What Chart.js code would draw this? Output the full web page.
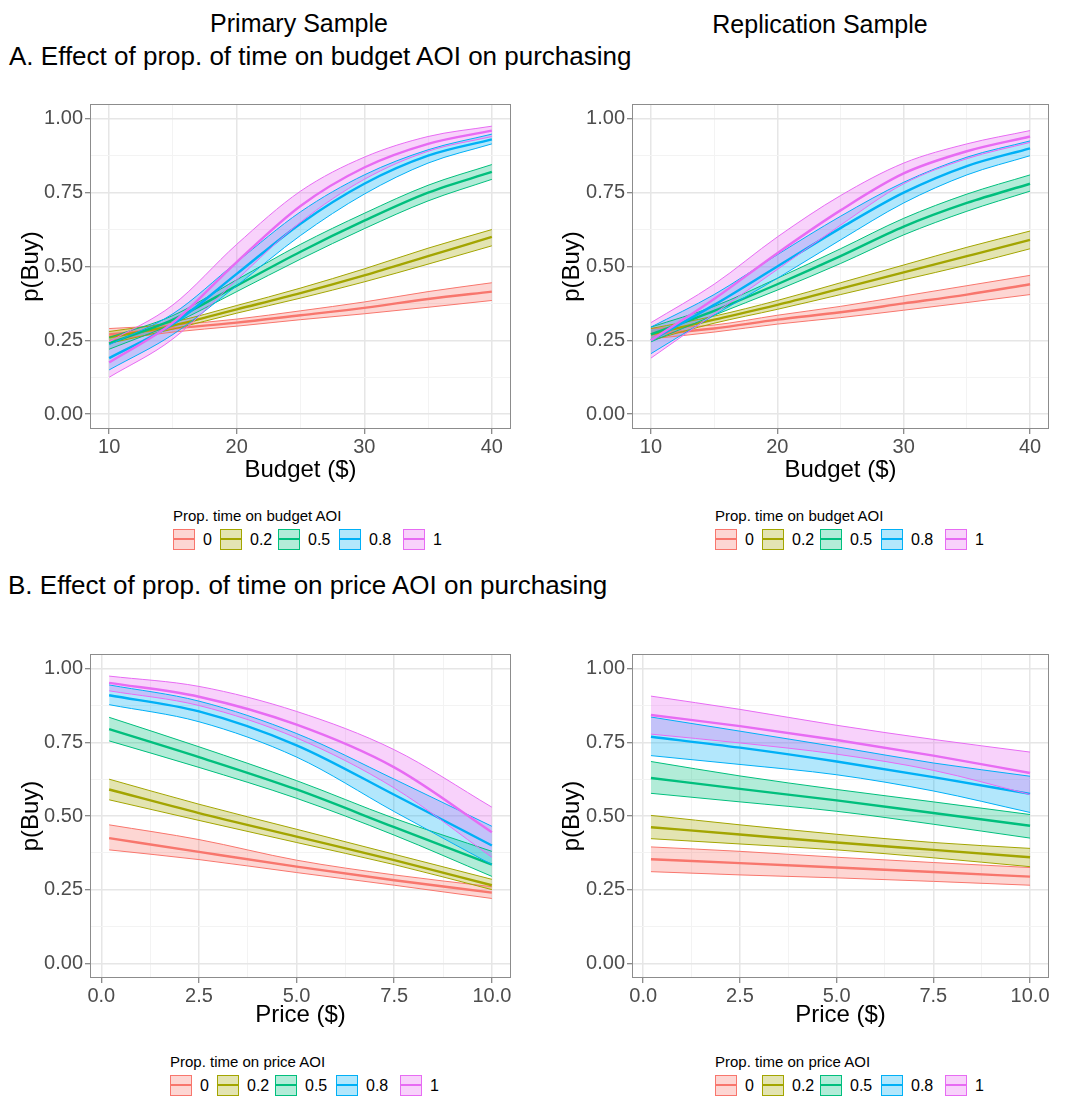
<!DOCTYPE html>
<html>
<head>
<meta charset="utf-8">
<script src="https://cdn.jsdelivr.net/npm/chart.js@4.4.0/dist/chart.umd.min.js"></script>
<style>
body { margin: 0; background: #fff; font-family: "Liberation Sans", Arial, Helvetica, sans-serif; }
#page { position: relative; width: 1065px; height: 1099px; overflow: hidden; background: #fff; }
canvas { position: absolute; }
.big { position: absolute; font-size: 25px; line-height: 25px; color: #000; white-space: nowrap; }
.sec { font-size: 26px; line-height: 26px; }
.ltitle { position: absolute; font-size: 15px; line-height: 15px; color: #000; white-space: nowrap; }
.lab { position: absolute; font-size: 16px; line-height: 16px; color: #000; white-space: nowrap; }
.key { position: absolute; width: 20px; height: 19px; border: 1px solid; }
.key div { position: absolute; left: 0; right: 0; top: 8px; height: 2px; }
</style>
</head>
<body>
<div id="page">
  <div class="big" style="left:299px; top:11px; transform:translateX(-50%);">Primary Sample</div>
  <div class="big" style="left:820px; top:12px; transform:translateX(-50%);">Replication Sample</div>
  <div class="big sec" style="left:9px; top:43px;">A. Effect of prop. of time on budget AOI on purchasing</div>
  <div class="big sec" style="left:8px; top:572px;">B. Effect of prop. of time on price AOI on purchasing</div>

  <canvas id="chartA1" width="536" height="410" style="left:0px; top:90px;"></canvas>
  <canvas id="chartA2" width="529" height="410" style="left:541px; top:90px;"></canvas>
  <canvas id="chartB1" width="536" height="400" style="left:0px; top:640px;"></canvas>
  <canvas id="chartB2" width="529" height="400" style="left:541px; top:640px;"></canvas>
</div>

<script>
var groups = ['0', '0.2', '0.5', '0.8', '1'];
var colors = ['248,118,109', '163,165,0', '0,191,125', '0,176,246', '231,107,243'];

var budgetX = [10, 15, 20, 25, 30, 35, 40];
var priceX = [0.2, 2.5, 5, 7.5, 10];

var yMajor = [0, 0.25, 0.5, 0.75, 1];
var yMinor = [0.125, 0.375, 0.625, 0.875];
var budgetMajor = [10, 20, 30, 40];
var budgetMinor = [15, 25, 35];
var priceMajor = [0, 2.5, 5, 7.5, 10];
var priceMinor = [1.25, 3.75, 6.25, 8.75];

// A. primary sample, budget
var budgetPrimaryMean = [
    [0.27, 0.29, 0.31, 0.335, 0.36, 0.39, 0.415],
    [0.26, 0.30, 0.355, 0.41, 0.47, 0.535, 0.60],
    [0.24, 0.32, 0.435, 0.55, 0.655, 0.75, 0.82],
    [0.19, 0.305, 0.475, 0.645, 0.78, 0.875, 0.93],
    [0.175, 0.31, 0.515, 0.705, 0.835, 0.915, 0.96]
];
var budgetPrimaryLow = [
    [0.25, 0.278, 0.298, 0.32, 0.34, 0.362, 0.385],
    [0.24, 0.288, 0.342, 0.393, 0.448, 0.508, 0.57],
    [0.22, 0.306, 0.415, 0.525, 0.628, 0.722, 0.795],
    [0.15, 0.27, 0.435, 0.605, 0.745, 0.85, 0.915],
    [0.125, 0.255, 0.455, 0.65, 0.795, 0.89, 0.94]
];
var budgetPrimaryHigh = [
    [0.29, 0.302, 0.322, 0.35, 0.38, 0.415, 0.445],
    [0.28, 0.312, 0.368, 0.427, 0.492, 0.562, 0.625],
    [0.26, 0.334, 0.455, 0.575, 0.68, 0.775, 0.845],
    [0.235, 0.34, 0.515, 0.685, 0.81, 0.895, 0.948],
    [0.245, 0.37, 0.575, 0.755, 0.87, 0.94, 0.975]
];

// A. replication sample, budget
var budgetReplMean = [
    [0.27, 0.29, 0.32, 0.345, 0.375, 0.405, 0.44],
    [0.27, 0.32, 0.37, 0.425, 0.48, 0.535, 0.59],
    [0.27, 0.35, 0.44, 0.535, 0.635, 0.715, 0.78],
    [0.25, 0.37, 0.50, 0.63, 0.75, 0.84, 0.90],
    [0.25, 0.39, 0.545, 0.69, 0.815, 0.89, 0.94]
];
var budgetReplLow = [
    [0.255, 0.278, 0.305, 0.327, 0.352, 0.378, 0.405],
    [0.25, 0.308, 0.355, 0.405, 0.455, 0.505, 0.56],
    [0.245, 0.335, 0.42, 0.51, 0.607, 0.687, 0.755],
    [0.205, 0.335, 0.46, 0.59, 0.715, 0.81, 0.875],
    [0.19, 0.34, 0.49, 0.64, 0.78, 0.865, 0.92]
];
var budgetReplHigh = [
    [0.29, 0.302, 0.335, 0.365, 0.40, 0.435, 0.47],
    [0.29, 0.332, 0.385, 0.445, 0.505, 0.565, 0.62],
    [0.295, 0.365, 0.46, 0.56, 0.663, 0.745, 0.81],
    [0.295, 0.405, 0.54, 0.67, 0.785, 0.87, 0.925],
    [0.31, 0.44, 0.60, 0.74, 0.85, 0.915, 0.96]
];

// B. primary sample, price
var pricePrimaryMean = [
    [0.425, 0.378, 0.328, 0.282, 0.24],
    [0.59, 0.51, 0.43, 0.35, 0.265],
    [0.795, 0.70, 0.59, 0.462, 0.335],
    [0.91, 0.855, 0.74, 0.572, 0.40],
    [0.952, 0.905, 0.81, 0.665, 0.445]
];
var pricePrimaryLow = [
    [0.385, 0.352, 0.308, 0.265, 0.22],
    [0.555, 0.485, 0.41, 0.335, 0.25],
    [0.755, 0.665, 0.56, 0.435, 0.295],
    [0.878, 0.82, 0.70, 0.515, 0.335],
    [0.925, 0.875, 0.765, 0.595, 0.36]
];
var pricePrimaryHigh = [
    [0.47, 0.42, 0.35, 0.30, 0.26],
    [0.625, 0.54, 0.455, 0.37, 0.285],
    [0.835, 0.735, 0.62, 0.492, 0.38],
    [0.945, 0.89, 0.78, 0.625, 0.465],
    [0.975, 0.94, 0.855, 0.725, 0.53]
];

// B. replication sample, price
var priceReplMean = [
    [0.353, 0.34, 0.325, 0.31, 0.294],
    [0.462, 0.437, 0.41, 0.385, 0.36],
    [0.629, 0.592, 0.553, 0.51, 0.467],
    [0.769, 0.732, 0.685, 0.632, 0.575],
    [0.843, 0.805, 0.758, 0.705, 0.646]
];
var priceReplLow = [
    [0.311, 0.30, 0.29, 0.278, 0.265],
    [0.423, 0.405, 0.385, 0.358, 0.328],
    [0.577, 0.548, 0.516, 0.472, 0.425],
    [0.705, 0.675, 0.64, 0.585, 0.512],
    [0.778, 0.748, 0.71, 0.655, 0.573]
];
var priceReplHigh = [
    [0.395, 0.38, 0.36, 0.342, 0.325],
    [0.502, 0.47, 0.438, 0.41, 0.39],
    [0.685, 0.636, 0.59, 0.548, 0.505],
    [0.836, 0.788, 0.735, 0.68, 0.635],
    [0.907, 0.862, 0.808, 0.76, 0.717]
];

Chart.defaults.font.family = '"Liberation Sans", Arial, Helvetica, sans-serif';

var panelBorder = {
    id: 'panelBorder',
    afterDraw: function(chart) {
        var a = chart.chartArea;
        var c = chart.ctx;
        c.save();
        c.strokeStyle = '#8c8c8c';
        c.lineWidth = 1;
        c.strokeRect(Math.round(a.left) + 0.5, Math.round(a.top) + 0.5, Math.round(a.right - a.left) - 1, Math.round(a.bottom - a.top) - 1);
        c.restore();
    }
};

function points(xs, ys) {
    return xs.map(function(x, i) { return {x: x, y: ys[i]}; });
}

function setTicks(major, minor) {
    return function(scale) {
        var t = [];
        major.forEach(function(v) { t.push({value: v, minor: false}); });
        minor.forEach(function(v) { t.push({value: v, minor: true}); });
        t.sort(function(a, b) { return a.value - b.value; });
        scale.ticks = t;
    };
}

function gridOpts() {
    return {
        color: function(ctx) { return ctx.tick && ctx.tick.minor ? '#f3f3f3' : '#e6e6e6'; },
        lineWidth: function(ctx) { return ctx.tick && ctx.tick.minor ? 1 : 1.5; },
        tickColor: function(ctx) { return ctx.tick && ctx.tick.minor ? 'rgba(0,0,0,0)' : '#666'; },
        tickWidth: 1,
        tickLength: 5,
        drawTicks: true
    };
}

function makeChart(id, xs, mean, low, high, p) {
    var datasets = [];
    for (var g = groups.length - 1; g >= 0; g--) {
        var col = 'rgb(' + colors[g] + ')';
        var base = {borderColor: col, pointRadius: 0, pointHoverRadius: 0, cubicInterpolationMode: 'monotone'};
        datasets.push(Object.assign({label: groups[g] + ' low', data: points(xs, low[g]), borderWidth: 1, fill: false}, base));
        datasets.push(Object.assign({label: groups[g] + ' high', data: points(xs, high[g]), borderWidth: 1,
            backgroundColor: 'rgba(' + colors[g] + ',0.3)', fill: '-1'}, base));
        datasets.push(Object.assign({label: groups[g], data: points(xs, mean[g]), borderWidth: 2.4, fill: false}, base));
    }

    return new Chart(document.getElementById(id), {
        type: 'line',
        data: {datasets: datasets},
        options: {
            responsive: false,
            animation: false,
            events: [],
            layout: {padding: {top: 11, right: p.padRight, left: 0, bottom: 0}},
            plugins: {
                legend: {display: false},
                tooltip: {enabled: false},
                filler: {drawTime: 'beforeDatasetsDraw'}
            },
            scales: {
                x: {
                    type: 'linear',
                    min: p.xMin,
                    max: p.xMax,
                    afterBuildTicks: setTicks(p.xMajor, p.xMinor),
                    afterFit: function(s) { s.height = p.xAxisHeight; },
                    grid: gridOpts(),
                    border: {display: false},
                    ticks: {
                        autoSkip: false,
                        maxRotation: 0,
                        padding: 1,
                        color: '#4d4d4d',
                        font: {size: 20},
                        callback: function(v, i, t) { return t[i].minor ? '' : p.xFmt(v); }
                    },
                    title: {display: true, text: p.xTitle, color: '#000', font: {size: 24}, padding: {top: 0, bottom: p.xTitlePad}}
                },
                y: {
                    type: 'linear',
                    min: -0.05,
                    max: 1.05,
                    afterBuildTicks: setTicks(yMajor, yMinor),
                    afterFit: function(s) { s.width = p.yAxisWidth; },
                    grid: gridOpts(),
                    border: {display: false},
                    ticks: {
                        autoSkip: false,
                        padding: 2,
                        color: '#4d4d4d',
                        font: {size: 20},
                        callback: function(v, i, t) { return t[i].minor ? '' : v.toFixed(2); }
                    },
                    title: {display: true, text: 'p(Buy)', color: '#000', font: {size: 24}, padding: {top: 17, bottom: 0}}
                }
            }
        },
        plugins: [panelBorder]
    });
}

function budgetFmt(v) { return String(v); }
function priceFmt(v) { return v.toFixed(1); }

makeChart('chartA1', budgetX, budgetPrimaryMean, budgetPrimaryLow, budgetPrimaryHigh, {
    xMin: 8.5, xMax: 41.5, xMajor: budgetMajor, xMinor: budgetMinor, xFmt: budgetFmt, xTitle: 'Budget ($)',
    padRight: 25, yAxisWidth: 90, xAxisHeight: 71, xTitlePad: 15.6
});
makeChart('chartA2', budgetX, budgetReplMean, budgetReplLow, budgetReplHigh, {
    xMin: 8.5, xMax: 41.5, xMajor: budgetMajor, xMinor: budgetMinor, xFmt: budgetFmt, xTitle: 'Budget ($)',
    padRight: 21, yAxisWidth: 91, xAxisHeight: 71, xTitlePad: 15.6
});
makeChart('chartB1', priceX, pricePrimaryMean, pricePrimaryLow, pricePrimaryHigh, {
    xMin: -0.29, xMax: 10.49, xMajor: priceMajor, xMinor: priceMinor, xFmt: priceFmt, xTitle: 'Price ($)',
    padRight: 25, yAxisWidth: 90, xAxisHeight: 62, xTitlePad: 10.6
});
makeChart('chartB2', priceX, priceReplMean, priceReplLow, priceReplHigh, {
    xMin: -0.29, xMax: 10.49, xMajor: priceMajor, xMinor: priceMinor, xFmt: priceFmt, xTitle: 'Price ($)',
    padRight: 21, yAxisWidth: 91, xAxisHeight: 62, xTitlePad: 10.6
});

// legends
var keyOffsets = [0, 47, 105, 166, 230];

function buildLegend(left, top, title) {
    var page = document.getElementById('page');
    var t = document.createElement('div');
    t.className = 'ltitle';
    t.style.left = left + 'px';
    t.style.top = top + 'px';
    t.textContent = title;
    page.appendChild(t);
    groups.forEach(function(g, i) {
        var k = document.createElement('div');
        k.className = 'key';
        k.style.left = (left + keyOffsets[i]) + 'px';
        k.style.top = (top + 21) + 'px';
        k.style.borderColor = 'rgb(' + colors[i] + ')';
        k.style.background = 'rgba(' + colors[i] + ',0.3)';
        var line = document.createElement('div');
        line.style.background = 'rgb(' + colors[i] + ')';
        k.appendChild(line);
        page.appendChild(k);
        var l = document.createElement('div');
        l.className = 'lab';
        l.style.left = (left + keyOffsets[i] + 30) + 'px';
        l.style.top = (top + 24) + 'px';
        l.textContent = g;
        page.appendChild(l);
    });
}

buildLegend(173, 508, 'Prop. time on budget AOI');
buildLegend(715, 508, 'Prop. time on budget AOI');
buildLegend(170, 1054, 'Prop. time on price AOI');
buildLegend(715, 1054, 'Prop. time on price AOI');
</script>
</body>
</html>
